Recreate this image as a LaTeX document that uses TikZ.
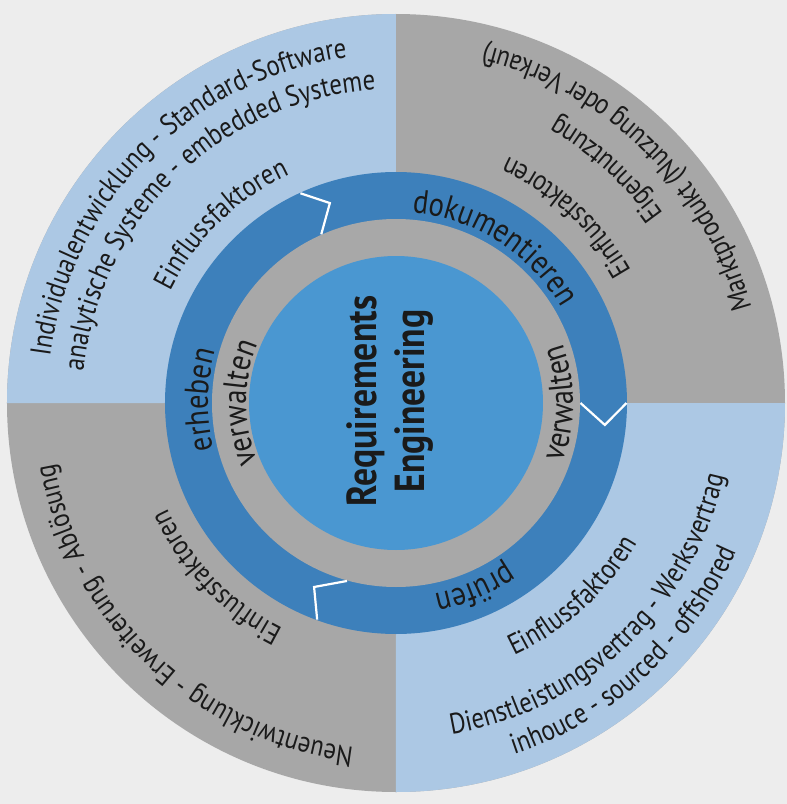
\documentclass[tikz,border=0pt]{standalone}
\usepackage{fontspec}
\setmainfont{PT Sans}[FakeStretch=0.85]
\usetikzlibrary{decorations.text}
\definecolor{bg}{HTML}{EDEDED}
\definecolor{lightblue}{HTML}{ACC8E4}
\definecolor{outergray}{HTML}{A7A7A7}
\definecolor{ringblue}{HTML}{3D80BB}
\definecolor{ringgray}{HTML}{A8A8A8}
\definecolor{coreblue}{HTML}{4A97D1}
\definecolor{txt}{HTML}{1A1A1A}
\newcommand{\otf}{\fontsize{29}{34}\selectfont}
\newcommand{\rgf}{\fontsize{33.5}{40}\selectfont}
\newcommand{\cwtext}[4]{\path[decorate,decoration={text along path,text={|#4|#3},text align=center,text color=txt}] ({#1+85}:#2pt) arc[start angle={#1+85},end angle={#1-85},radius=#2pt];}
\newcommand{\ccwtext}[4]{\path[decorate,decoration={text along path,text={|#4|#3},text align=center,text color=txt}] ({#1-85}:#2pt) arc[start angle={#1-85},end angle={#1+85},radius=#2pt];}
\tikzset{chev/.style={draw=white, line width=2.2pt, line join=miter}}
\begin{document}
\begin{tikzpicture}
\fill[bg] (-396pt,-401pt) rectangle (391pt,403pt);
\useasboundingbox (-396pt,-401pt) rectangle (391pt,403pt);
% outer quadrants
\fill[outergray] (0,0) circle[radius=389pt];
\fill[lightblue] (0,0) -- (90:389pt) arc[start angle=90,end angle=180,radius=389pt] -- cycle;
\fill[lightblue] (0,0) -- (270:389pt) arc[start angle=270,end angle=360,radius=389pt] -- cycle;
% rings
\fill[ringblue] (0,0) circle[radius=231pt];
\fill[ringgray] (0,0) circle[radius=184pt];
\fill[coreblue] (0,0) circle[radius=147pt];
% chevrons
\draw[chev] (114.5:230.5pt) -- (108.3:210.6pt) -- (113.9:184.5pt);
\draw[chev] (0:184.5pt) -- (-6:210pt) -- (0:230.5pt);
\draw[chev] (254.6:184.6pt) -- (246:201.4pt) -- (250:230.5pt);
% centre
\node[rotate=90, align=center, text=txt, font=\bfseries\fontsize{42}{48}\selectfont] (re) at (-6pt,2pt) {Requirements\\Engineering};
% ring texts
\cwtext{57.5}{191}{dokumentieren}{\rgf}
\cwtext{179}{188}{erheben}{\rgf}
\cwtext{293}{195}{prüfen}{\rgf}
\cwtext{180}{150}{verwalten}{\rgf}
\ccwtext{0}{177}{verwalten}{\rgf}
% top-left
\cwtext{134.3}{252}{Einflussfaktoren}{\otf}
\cwtext{134}{314}{analytische Systeme - embedded Systeme}{\otf}
\cwtext{135.2}{349}{Individualentwicklung - Standard-Software}{\otf}
% top-right
\ccwtext{47.5}{270}{Einflussfaktoren}{\otf}
\ccwtext{48}{328}{Eigennutzung}{\otf}
\ccwtext{45.5}{368}{Marktprodukt (Nutzung oder Verkauf)}{\otf}
% bottom-left
\cwtext{224}{252}{Einflussfaktoren}{\otf}
\cwtext{226.5}{347}{Neuentwicklung - Erweiterung - Ablösung}{\otf}
% bottom-right
\ccwtext{312.5}{279}{Einflussfaktoren}{\otf}
\ccwtext{313.5}{336}{Dienstleistungsvertrag - Werksvertrag}{\otf}
\ccwtext{312.5}{371}{inhouce - sourced - offshored}{\otf}
\end{tikzpicture}
\end{document}
